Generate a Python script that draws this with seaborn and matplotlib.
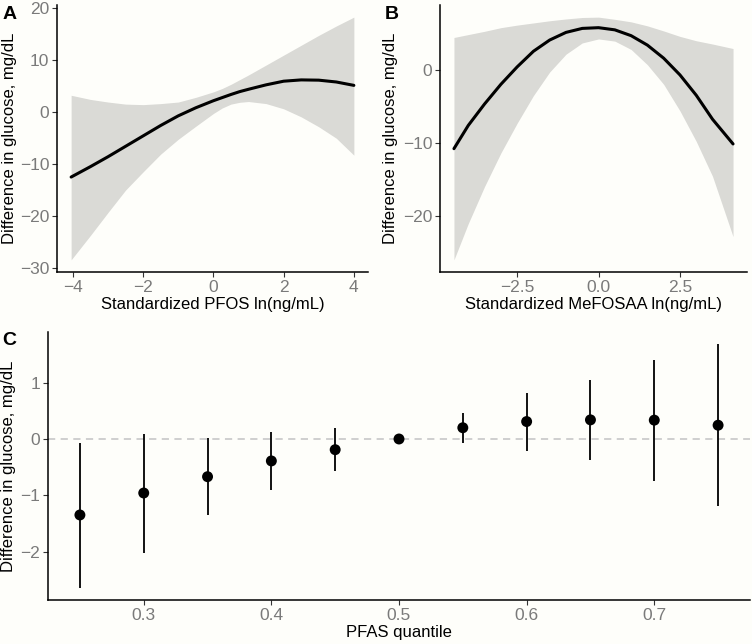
import numpy as np
import pandas as pd
import matplotlib
matplotlib.use("Agg")
import matplotlib.pyplot as plt
import seaborn as sns

sns.set_theme(style="ticks")
plt.rcParams['font.family'] = ['Liberation Sans', 'DejaVu Sans']

# ---------------- Data ----------------
# Panel A: PFOS
pfos_x = [-4.05, -3.5, -3.0, -2.5, -2.0, -1.5, -1.0, -0.5, 0.0, 0.25, 0.5, 0.75, 1.0, 1.5, 2.0, 2.5, 3.0, 3.5, 4.0]
pfos_fit = [-12.5, -10.5, -8.6, -6.6, -4.6, -2.6, -0.75, 0.8, 2.15, 2.75, 3.35, 3.9, 4.35, 5.2, 5.9, 6.15, 6.1, 5.75, 5.1]
pfos_hi = [3.2, 2.4, 1.9, 1.5, 1.4, 1.6, 1.9, 2.8, 3.85, 4.5, 5.3, 6.2, 7.1, 9.0, 10.9, 12.8, 14.7, 16.5, 18.2]
pfos_lo = [-28.4, -23.7, -19.3, -15.0, -11.5, -8.1, -5.25, -2.75, -0.3, 0.75, 1.5, 1.85, 2.0, 1.6, 0.6, -0.95, -2.85, -5.05, -8.3]

# Panel B: MeFOSAA
mef_x = [-4.44, -4.0, -3.5, -3.0, -2.5, -2.0, -1.5, -1.0, -0.5, 0.0, 0.5, 1.0, 1.5, 2.0, 2.5, 3.0, 3.5, 4.13]
mef_fit = [-10.8, -7.6, -4.65, -1.95, 0.45, 2.6, 4.15, 5.2, 5.75, 5.85, 5.55, 4.75, 3.45, 1.65, -0.65, -3.45, -6.75, -10.15]
mef_hi = [4.5, 4.9, 5.35, 5.85, 6.2, 6.5, 6.8, 7.05, 7.25, 7.3, 7.0, 6.65, 6.1, 5.4, 4.65, 4.05, 3.6, 2.98]
mef_lo = [-26.1, -21.1, -16.0, -11.4, -7.3, -3.5, -0.25, 2.2, 3.75, 4.3, 4.0, 2.85, 0.75, -1.95, -5.6, -9.8, -14.6, -22.9]

# Panel C: quantile estimates
quantile = [0.25, 0.30, 0.35, 0.40, 0.45, 0.50, 0.55, 0.60, 0.65, 0.70, 0.75]
est = [-1.35, -0.96, -0.67, -0.39, -0.19, 0.0, 0.20, 0.31, 0.34, 0.335, 0.245]
ci_lo = [-2.645, -2.02, -1.35, -0.91, -0.57, 0.0, -0.075, -0.21, -0.37, -0.745, -1.195]
ci_hi = [-0.075, 0.095, 0.01, 0.13, 0.195, 0.0, 0.47, 0.82, 1.05, 1.41, 1.685]

ylab = "Difference in glucose, mg/dL"

# ---------------- Style ----------------
BG = "#FEFEFA"
BAND = "#DADAD6"
TICKC = "#7A7A7A"
fig = plt.figure(figsize=(7.52, 6.44), dpi=100, facecolor=BG)
W, H = 752, 644

def make_ax(l, t, r, b):
    ax = fig.add_axes([l / W, 1 - b / H, (r - l) / W, (b - t) / H])
    ax.set_facecolor(BG)
    for s in ["top", "right"]:
        ax.spines[s].set_visible(False)
    for s in ["left", "bottom"]:
        ax.spines[s].set_color("black")
        ax.spines[s].set_linewidth(1.1)
    ax.tick_params(axis="both", colors="#333333", labelcolor=TICKC,
                   labelsize=12.5, length=3.5, width=0.8, pad=2)
    return ax

def curve_panel(ax, x, fit, lo, hi, xlabel):
    ax.fill_between(x, lo, hi, color=BAND, linewidth=0)
    df = pd.DataFrame({"x": x, "y": fit})
    sns.lineplot(data=df, x="x", y="y", ax=ax, color="black", linewidth=2.2)
    rng = max(hi) - min(lo)
    ax.set_ylim(min(lo) - 0.05 * rng, max(hi) + 0.05 * rng)
    xr = max(x) - min(x)
    ax.set_xlim(min(x) - 0.05 * xr, max(x) + 0.05 * xr)
    ax.set_xlabel(xlabel, fontsize=12, color="black", labelpad=2)
    ax.set_ylabel(ylab, fontsize=12, color="black")

# Panel A
axA = make_ax(57, 5, 368, 272)
curve_panel(axA, pfos_x, pfos_fit, pfos_lo, pfos_hi, "Standardized PFOS ln(ng/mL)")
axA.set_yticks([-30, -20, -10, 0, 10, 20])
axA.set_xticks([-4, -2, 0, 2, 4])
axA.yaxis.set_label_coords(17 / W, 1 - 138 / H, transform=fig.transFigure)

# Panel B
axB = make_ax(440, 5, 747, 272)
curve_panel(axB, mef_x, mef_fit, mef_lo, mef_hi, "Standardized MeFOSAA ln(ng/mL)")
axB.set_yticks([-20, -10, 0])
axB.set_xticks([-2.5, 0.0, 2.5])
axB.set_xticklabels(["\u22122.5", "0.0", "2.5"])
axB.yaxis.set_label_coords(398 / W, 1 - 138 / H, transform=fig.transFigure)

# Panel C
axC = make_ax(48, 332, 750, 600)
axC.axhline(0, color="#CCCCCC", linestyle=(0, (4, 3)), linewidth=1.3, zorder=0)
axC.vlines(quantile, ci_lo, ci_hi, color="black", linewidth=1.3)
dfc = pd.DataFrame({"q": quantile, "est": est})
sns.scatterplot(data=dfc, x="q", y="est", ax=axC, color="black", s=62,
                edgecolor="none", zorder=3)
rng = max(ci_hi) - min(ci_lo)
axC.set_ylim(min(ci_lo) - 0.05 * rng, max(ci_hi) + 0.05 * rng)
axC.set_xlim(0.225, 0.775)
axC.set_xticks([0.3, 0.4, 0.5, 0.6, 0.7])
axC.set_xticklabels(["0.3", "0.4", "0.5", "0.6", "0.7"])
axC.set_yticks([-2, -1, 0, 1])
axC.set_xlabel("PFAS quantile", fontsize=12, color="black", labelpad=2)
axC.set_ylabel(ylab, fontsize=12, color="black")
axC.yaxis.set_label_coords(16 / W, 1 - 466 / H, transform=fig.transFigure)

# Panel letters
for lab, x, y in [("A", 3, 19), ("B", 385, 19), ("C", 2, 345)]:
    fig.text(x / W, 1 - y / H, lab, fontsize=14, fontweight="bold",
             color="black", ha="left", va="baseline")

fig.savefig("out.png", dpi=100, facecolor=BG)
